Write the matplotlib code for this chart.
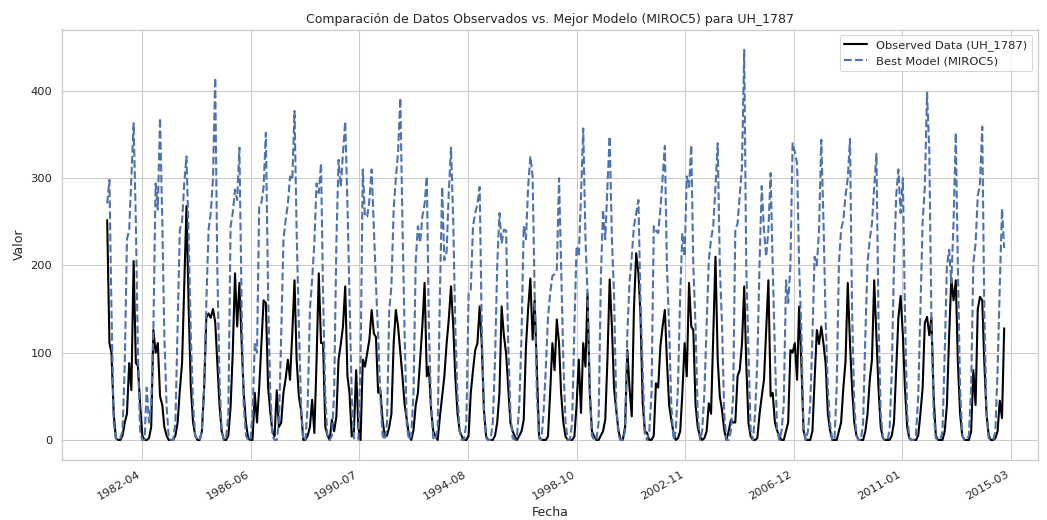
import matplotlib
matplotlib.use("Agg")
import matplotlib.pyplot as plt
import matplotlib.dates as mdates
from matplotlib.ticker import MultipleLocator
import numpy as np
import pandas as pd
import seaborn as sns

# monthly values, one row per year (Jan..Dec), 1981-2014
years = list(range(1981, 2015))

observed = [
    [252, 111, 100, 30, 2, 0, 0, 5, 20, 30, 88, 57],      # 1981
    [205, 88, 85, 40, 5, 0, 0, 2, 15, 126, 100, 111],     # 1982
    [50, 40, 15, 5, 0, 0, 0, 5, 20, 57, 88, 176],         # 1983
    [268, 150, 60, 20, 5, 0, 0, 10, 60, 140, 145, 140],   # 1984
    [150, 135, 90, 40, 10, 0, 0, 5, 38, 100, 191, 130],   # 1985
    [180, 111, 54, 20, 2, 0, 0, 54, 20, 60, 110, 160],    # 1986
    [157, 61, 34, 10, 4, 57, 15, 20, 54, 70, 92, 69],     # 1987
    [122, 183, 92, 50, 34, 0, 0, 5, 15, 46, 8, 90],       # 1988
    [191, 111, 111, 15, 5, 0, 23, 10, 27, 92, 110, 130],  # 1989
    [176, 73, 54, 4, 10, 80, 15, 0, 92, 84, 100, 115],    # 1990
    [149, 122, 118, 54, 57, 23, 4, 5, 15, 30, 111, 149],  # 1991
    [130, 100, 73, 40, 23, 4, 0, 11, 40, 54, 92, 130],    # 1992
    [180, 73, 84, 34, 10, 4, 0, 27, 50, 73, 110, 138],    # 1993
    [176, 130, 73, 30, 10, 4, 0, 0, 5, 54, 80, 103],      # 1994
    [111, 153, 111, 34, 4, 0, 0, 0, 5, 20, 54, 153],      # 1995
    [120, 99, 60, 19, 10, 4, 0, 5, 10, 23, 107, 150],     # 1996
    [185, 115, 160, 80, 4, 0, 0, 0, 4, 54, 111, 80],      # 1997
    [138, 111, 54, 20, 4, 0, 0, 0, 4, 40, 92, 31],        # 1998
    [111, 84, 168, 54, 10, 4, 0, 0, 5, 10, 23, 92],       # 1999
    [184, 130, 60, 34, 11, 0, 0, 15, 103, 60, 27, 150],   # 2000
    [214, 191, 145, 42, 10, 8, 0, 0, 5, 65, 60, 107],     # 2001
    [130, 149, 92, 40, 23, 8, 0, 2, 10, 54, 111, 73],     # 2002
    [180, 130, 126, 40, 15, 4, 0, 2, 10, 42, 30, 120],    # 2003
    [210, 92, 50, 34, 11, 0, 10, 23, 20, 20, 73, 80],     # 2004
    [110, 176, 88, 19, 4, 0, 0, 2, 30, 50, 69, 126],      # 2005
    [183, 50, 54, 20, 11, 4, 0, 0, 10, 20, 103, 100],     # 2006
    [111, 69, 153, 88, 11, 0, 0, 0, 10, 69, 126, 110],    # 2007
    [130, 110, 88, 30, 11, 0, 0, 0, 10, 20, 60, 90],      # 2008
    [180, 110, 60, 20, 5, 0, 0, 0, 10, 30, 69, 92],       # 2009
    [183, 120, 60, 15, 2, 0, 0, 0, 5, 20, 80, 140],       # 2010
    [165, 120, 60, 15, 2, 0, 0, 0, 5, 30, 60, 134],       # 2011
    [141, 120, 140, 50, 5, 0, 0, 0, 10, 40, 120, 185],    # 2012
    [160, 183, 90, 30, 5, 0, 0, 0, 10, 80, 40, 150],      # 2013
    [164, 160, 90, 30, 5, 0, 0, 2, 10, 45, 25, 128],      # 2014
]

best_model = [
    [271, 298, 150, 20, 2, 0, 2, 10, 88, 230, 241, 300],     # 1981
    [363, 250, 100, 10, 0, 0, 60, 20, 40, 126, 294, 264],    # 1982
    [369, 250, 120, 40, 2, 0, 0, 20, 134, 241, 250, 294],    # 1983
    [325, 230, 120, 40, 5, 0, 0, 10, 60, 157, 241, 260],     # 1984
    [300, 415, 200, 70, 10, 0, 2, 30, 245, 260, 287, 275],   # 1985
    [335, 150, 40, 5, 0, 0, 30, 110, 100, 268, 272, 290],    # 1986
    [352, 168, 60, 5, 0, 0, 20, 120, 229, 252, 270, 302],    # 1987
    [298, 377, 240, 130, 40, 0, 0, 40, 150, 184, 226, 294],  # 1988
    [283, 317, 168, 50, 2, 0, 5, 54, 226, 321, 290, 329],    # 1989
    [365, 270, 168, 50, 2, 0, 0, 92, 310, 256, 256, 275],    # 1990
    [310, 240, 180, 120, 50, 5, 0, 20, 149, 176, 264, 300],  # 1991
    [330, 392, 250, 120, 15, 0, 5, 54, 206, 245, 226, 256],  # 1992
    [270, 302, 130, 40, 2, 0, 15, 168, 290, 206, 215, 283],  # 1993
    [335, 250, 130, 50, 10, 0, 0, 20, 168, 172, 245, 260],   # 1994
    [270, 290, 130, 30, 2, 0, 0, 20, 92, 200, 260, 225],     # 1995
    [241, 240, 110, 30, 2, 0, 5, 40, 120, 245, 230, 290],    # 1996
    [325, 302, 168, 50, 2, 0, 30, 80, 140, 168, 188, 190],   # 1997
    [195, 300, 200, 92, 20, 0, 0, 20, 130, 222, 210, 280],   # 1998
    [357, 230, 168, 60, 5, 0, 0, 20, 184, 264, 230, 290],    # 1999
    [348, 230, 168, 40, 5, 0, 0, 10, 122, 180, 210, 245],    # 2000
    [260, 275, 160, 80, 5, 0, 10, 54, 245, 240, 237, 264],   # 2001
    [300, 337, 200, 130, 40, 0, 10, 60, 168, 237, 210, 302], # 2002
    [290, 338, 200, 130, 30, 0, 10, 54, 130, 206, 230, 245], # 2003
    [290, 340, 200, 130, 30, 0, 0, 10, 50, 241, 248, 280],   # 2004
    [313, 447, 200, 100, 11, 0, 30, 90, 203, 291, 240, 210], # 2005
    [241, 306, 200, 100, 11, 0, 10, 40, 183, 157, 200, 340], # 2006
    [330, 317, 200, 126, 11, 0, 10, 40, 120, 210, 200, 240], # 2007
    [344, 250, 138, 60, 19, 0, 0, 60, 203, 241, 252, 280],   # 2008
    [300, 345, 150, 40, 5, 0, 0, 20, 120, 203, 230, 248],    # 2009
    [290, 328, 140, 30, 2, 0, 0, 10, 80, 200, 280, 310],     # 2010
    [260, 300, 150, 30, 2, 0, 0, 5, 50, 150, 250, 290],      # 2011
    [398, 330, 140, 30, 2, 0, 0, 10, 100, 200, 218, 180],    # 2012
    [250, 352, 200, 60, 5, 0, 0, 5, 60, 203, 225, 279],      # 2013
    [294, 359, 150, 30, 2, 0, 0, 10, 80, 176, 265, 220],     # 2014
]

dates = pd.date_range(f"{years[0]}-01-01", periods=12 * len(years), freq="MS")
obs = np.array(observed).ravel()
model = np.array(best_model).ravel()

sns.set_theme(style="whitegrid")

fig = plt.figure(figsize=(1047 / 75, 520 / 75), dpi=75)
ax = fig.add_axes([62 / 1047, 60.5 / 520, 976 / 1047, 430 / 520])

ax.plot(dates, obs, color="black", linewidth=2, label="Observed Data (UH_1787)")
ax.plot(dates, model, color="#4C72B0", linestyle="--", linewidth=2, label="Best Model (MIROC5)")

ax.set_xlim(pd.Timestamp("1979-04-18"), pd.Timestamp("2016-03-12"))
ax.set_ylim(-22.4, 470.4)
ax.xaxis.set_major_locator(MultipleLocator(1500))
ax.xaxis.set_major_formatter(mdates.DateFormatter("%Y-%m"))
for lbl in ax.get_xticklabels():
    lbl.set_rotation(30)
    lbl.set_horizontalalignment("right")

ax.set_title("Comparación de Datos Observados vs. Mejor Modelo (MIROC5) para UH_1787")
ax.set_xlabel("Fecha")
ax.set_ylabel("Valor")
ax.legend(loc="upper right")

fig.savefig("out.png", dpi=75)
